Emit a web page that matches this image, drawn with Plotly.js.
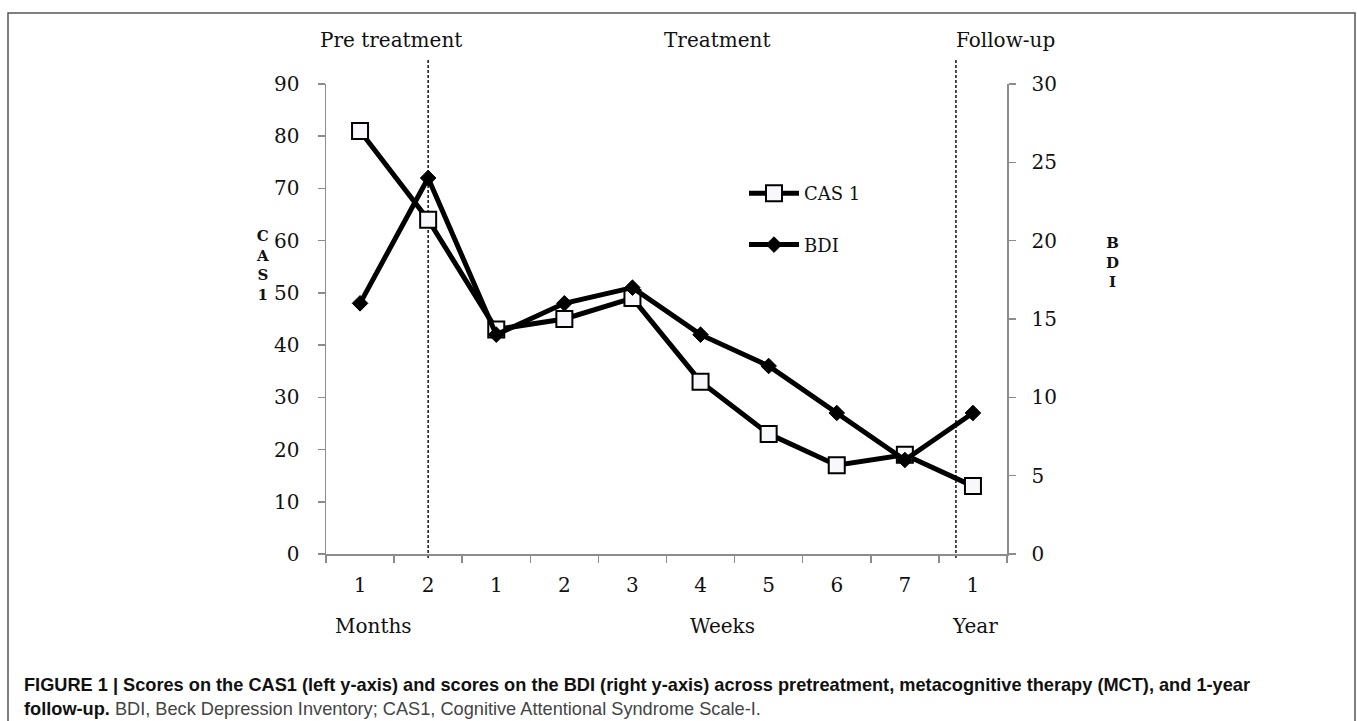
<!DOCTYPE html>
<html>
<head>
<meta charset="utf-8">
<script src="https://cdn.plot.ly/plotly-3.0.1.min.js"></script>
<style>html,body{margin:0;padding:0;background:#fff;}#chart{width:1357px;height:721px;}</style>
</head>
<body>
<div id="chart"></div>
<script>
// ---- data ----
const categories = ["m1","m2","w1","w2","w3","w4","w5","w6","w7","y1"];
const tickLabels = ["1","2","1","2","3","4","5","6","7","1"];
const cas1 = [81, 64, 43, 45, 49, 33, 23, 17, 19, 13];
const bdi  = [16, 24, 14, 16, 17, 14, 12, 9, 6, 9];
const phaseLabels = ["Pre treatment", "Treatment", "Follow-up"];
const unitLabels = ["Months", "Weeks", "Year"];
const phaseDividers = [1, 8.75];
const leftTitle = "C<br>A<br>S<br>1";
const rightTitle = "B<br>D<br>I";
const captionBold = "FIGURE 1 | Scores on the CAS1 (left y-axis) and scores on the BDI (right y-axis) across pretreatment, metacognitive therapy (MCT), and 1-year";
const captionBold2 = "follow-up.";
const captionRest = " BDI, Beck Depression Inventory; CAS1, Cognitive Attentional Syndrome Scale-I.";

const serif = "DejaVu Serif, serif";
const gray = "#8c8c8c";

const traces = [
  {
    x: categories, y: cas1, name: "CAS 1", type: "scatter", mode: "lines+markers",
    yaxis: "y", legendgroup: "a",
    line: {color: "#000", width: 5},
    marker: {symbol: "square", size: 16, color: "#f8f8fb", line: {color: "#000", width: 2}}
  },
  {
    x: categories, y: bdi, name: "BDI", type: "scatter", mode: "lines+markers",
    yaxis: "y2", legendgroup: "b",
    line: {color: "#000", width: 5},
    marker: {symbol: "diamond", size: 12, color: "#000", line: {color: "#000", width: 1}}
  }
];

const W = 1357, H = 721, L = 326, R = 350, T = 84, B = 167;
const pw = W - L - R, ph = H - T - B;
const px = v => (v - L) / pw;
const py = v => (H - B - v) / ph;

const annotations = [];
const phaseX = [391, 717, 1005];
phaseLabels.forEach((t, i) => annotations.push({
  text: t, xref: "paper", yref: "paper", x: px(phaseX[i]), y: py(40),
  xanchor: "center", yanchor: "middle", showarrow: false,
  font: {family: serif, size: 20, color: "#111"}
}));
const unitX = [373, 722, 975];
unitLabels.forEach((t, i) => annotations.push({
  text: t, xref: "paper", yref: "paper", x: px(unitX[i]), y: py(626),
  xanchor: "center", yanchor: "middle", showarrow: false,
  font: {family: serif, size: 20, color: "#111"}
}));
annotations.push({
  text: "<b>" + leftTitle + "</b>", xref: "paper", yref: "paper", x: px(262), y: py(265),
  xanchor: "center", yanchor: "middle", showarrow: false,
  font: {family: serif, size: 15, color: "#111"}
});
annotations.push({
  text: "<b>" + rightTitle + "</b>", xref: "paper", yref: "paper", x: px(1112), y: py(262),
  xanchor: "center", yanchor: "middle", showarrow: false,
  font: {family: serif, size: 15, color: "#111"}
});
annotations.push({
  text: "<b>" + captionBold + "</b><br><b>" + captionBold2 + "</b><span style='color:#444'>" + captionRest + "</span>",
  xref: "paper", yref: "paper", x: px(22), y: py(697),
  xanchor: "left", yanchor: "middle", align: "left", showarrow: false,
  font: {family: "Liberation Sans, Arial, sans-serif", size: 18.2, color: "#111"}
});

const shapes = [
  {type: "rect", xref: "paper", yref: "paper", x0: px(8), x1: px(1355), y0: py(760), y1: py(13),
   line: {color: "#555", width: 1.5}, fillcolor: "rgba(0,0,0,0)", layer: "below"}
];
phaseDividers.forEach(d => shapes.push({
  type: "line", xref: "x", yref: "paper", x0: d, x1: d, y0: py(558), y1: py(60),
  line: {color: "#111", width: 1.5, dash: "3px,2px"}, layer: "below"
}));

const layout = {
  width: W, height: H,
  margin: {l: L, r: R, t: T, b: B, pad: 0},
  paper_bgcolor: "#fff", plot_bgcolor: "#fff",
  showlegend: true,
  legend: {
    x: px(744), y: py(175), xanchor: "left", yanchor: "top",
    font: {family: serif, size: 18, color: "#111"},
    tracegroupgap: 25, traceorder: "grouped",
    bgcolor: "rgba(0,0,0,0)", itemwidth: 50
  },
  xaxis: {
    type: "category", categoryorder: "array", categoryarray: categories,
    tickmode: "array", tickvals: categories, ticktext: tickLabels,
    range: [-0.5, 9.5], tickson: "boundaries",
    ticks: "outside", ticklen: 7, tickwidth: 1.5, tickcolor: gray,
    showline: true, linecolor: gray, linewidth: 1.5,
    showgrid: false, zeroline: false, ticklabelstandoff: 12,
    tickfont: {family: serif, size: 20, color: "#111"}, fixedrange: true
  },
  yaxis: {
    range: [0, 90], dtick: 10, tick0: 0,
    ticks: "outside", ticklen: 7, tickwidth: 1.5, tickcolor: gray,
    showline: true, linecolor: gray, linewidth: 1.5,
    showgrid: false, zeroline: false, ticklabelstandoff: 14,
    tickfont: {family: serif, size: 20, color: "#111"}
  },
  yaxis2: {
    range: [0, 30], dtick: 5, tick0: 0, overlaying: "y", side: "right", anchor: "x",
    ticks: "outside", ticklen: 7, tickwidth: 1.5, tickcolor: gray,
    showline: true, linecolor: gray, linewidth: 1.5,
    showgrid: false, zeroline: false, ticklabelstandoff: 12,
    tickfont: {family: serif, size: 20, color: "#111"}
  },
  annotations: annotations,
  shapes: shapes
};

Plotly.newPlot("chart", traces, layout, {displayModeBar: false, staticPlot: true});
</script>
</body>
</html>
